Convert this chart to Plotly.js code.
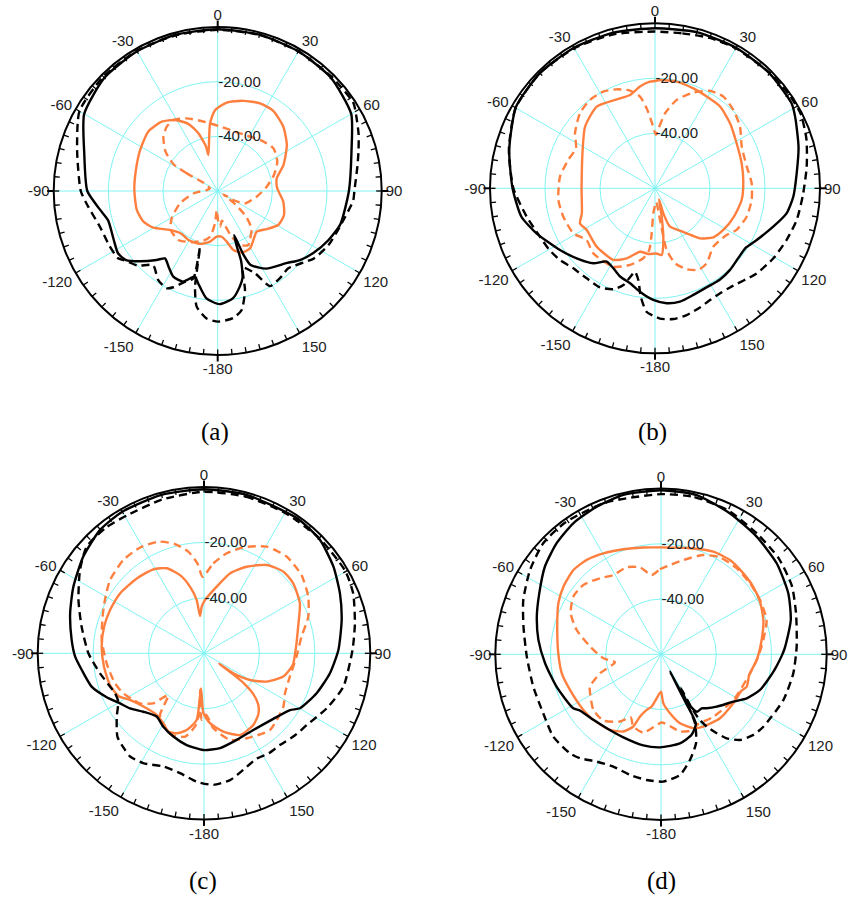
<!DOCTYPE html>
<html>
<head>
<meta charset="utf-8">
<script src="https://cdn.plot.ly/plotly-3.0.1.min.js"></script>
<style>html,body{margin:0;padding:0;background:#fff;}#chart{width:849px;height:913px;}</style>
</head>
<body>
<div id="chart"></div>
<script>
// ---------- angular tick labels ----------
const angleTickVals = [0,30,60,90,120,150,180,210,240,270,300,330];
const angleTickText = ['0','30','60','90','120','150','-180','-150','-120','-90','-60','-30'];
const radialTickVals = [-40,-20];
const radialTickText = ['-40.00','-20.00'];
const panelLabels = ['(a)','(b)','(c)','(d)'];

// ---------- panel (a) ----------
const aBlackSolidTheta = [0,15,30,45,60,73,90,105,114,123,130,136,148,156,158,159.5,161,161.5,164,167,172,179,-174,-168,-165,-159,-152.6,-147,-142,-138.5,-132,-127,-122,-115,-105,-99,-90,-74,-60,-45,-30,-15,0];
const aBlackSolidR     = [-0.8,-0.8,-1.0,-1.4,-3.6,-8.8,-12.0,-13.5,-15.7,-18.3,-20.7,-23.4,-26.5,-30.4,-35,-42.8,-38.5,-33,-27,-24.1,-20.3,-18.6,-20.5,-25.5,-27.6,-24.5,-24.7,-27,-28.7,-26.3,-21.6,-18,-17,-18,-18.5,-16.4,-12.3,-9.2,-3.6,-1.4,-1.0,-0.8,-0.8];
const aBlackDashTheta = [0,15,30,45,57,62,68,74,80,90,94,106,116,125,137.6,144.5,151.2,155.6,161.7,164.6,168.6,173,179.7,-175,-169.7,-166.7,-162.5,-164.4,-159.4,-155.2,-152.3,-146.3,-139,-133,-126.7,-124,-117,-107,-97,-90,-74,-60,-45,-30,-15,0];
const aBlackDashR     = [-1.0,-0.9,-1.0,-1.0,-0.8,-2.5,-4.4,-6.4,-8.1,-10.0,-10.3,-13.4,-14.9,-17,-21.7,-20.8,-20.3,-26.9,-30.5,-22.4,-15.6,-13.2,-12.2,-13.2,-17,-24,-38.5,-26.8,-24.2,-21.2,-19.8,-20.8,-24,-20,-17.5,-16,-15.6,-15,-12.3,-9.9,-6.5,-1.6,-0.8,-0.8,-1.0,-1.0];
const aOrangeSolidTheta = [-14.5,-6.5,-1.9,5.8,15.9,25.8,34.7,45.6,56.3,68.4,77.9,87.4,99.2,109.9,119.3,127.8,136.2,142.5,150.6,158.7,165.1,169.9,175,-178.7,-171.4,-161.6,-149.1,-140,-129.3,-119.7,-112.4,-103.2,-89.3,-75.6,-62.2,-49.4,-38.9,-31,-23.6,-18.5,-14.7,-14.5];
const aOrangeSolidR     = [-46.4,-35.1,-30.4,-27.5,-25.7,-24.4,-24.3,-26.4,-29.6,-34.1,-37.9,-38.2,-35.7,-34.2,-34.6,-37.3,-39.4,-38.2,-35.9,-35.8,-37.7,-41.2,-43.2,-43.3,-41.3,-39.6,-39.1,-39.5,-37.5,-32.9,-30.6,-29.6,-29.5,-29.1,-27.9,-26.6,-27.4,-29.7,-33.2,-37.7,-43.2,-46.4];
const aOrangeDashTheta = [-60,-60.3,-58.7,-52.9,-45,-38.4,-32,-23.1,-14.1,-6.5,0.6,11.4,27.7,41.2,52.5,63.8,74.1,85,98.3,114.3,119.9,120.5,127,132,138,144,150.4,157,163,168,172,176,179,-177,-175.3,-170.5,-163.9,-153.1,-141.2,-129.7,-120.7,-108.1,-95,-85,-72,-60];
const aOrangeDashR     = [-54,-47,-41,-36.1,-31.9,-30,-29.4,-31.1,-33.5,-35.1,-36.2,-37.2,-37.1,-35.5,-34.3,-35.7,-38.6,-42,-45.6,-49,-53.4,-57.6,-52,-46,-41.5,-39.5,-37.3,-38.5,-42.5,-47,-49,-47,-49,-53,-48.2,-43,-41.1,-39,-37,-37.7,-40.4,-45.5,-51.5,-56,-57,-54];

// ---------- panel (b) ----------
const bBlackSolidTheta = [0,15,30,45,58,63,74,84,93.4,100.8,108,116.9,123,130,137.4,144.5,152.4,160.2,167.6,174.2,-179.1,-171.7,-165.3,-158.4,-152.5,-146.6,-140.6,-131.8,-123,-110.8,-101.9,-90,-75.3,-59.6,-45,-30,-15,0];
const bBlackSolidR     = [-1.8,-1.2,-1.0,-1.0,-1.5,-2.8,-5.7,-8.2,-9.6,-11.3,-14.8,-18.5,-20.5,-20.5,-19.7,-19.3,-19.4,-18.8,-17.8,-18,-19.4,-22,-24.3,-25.5,-27.2,-28.1,-24.7,-21.8,-18.8,-13.9,-10.3,-8.2,-5.2,-1.4,-0.8,-1.0,-1.4,-1.8];
const bBlackDashTheta = [0,10,20,30,45,55,63,72,82,93,102.6,111.4,120.6,129.9,142.9,148.2,153.8,159.3,166,172,177.8,-176.1,-172.5,-169.7,-166.5,-164.3,-161.9,-157.6,-150.9,-142.8,-134.4,-127,-120,-112.8,-102.4,-90,-75,-60,-45,-30,-15,0];
const bBlackDashR     = [-3.0,-2.8,-1.8,-1.2,-0.8,-0.5,-0.5,-2.1,-4.3,-6.2,-7.2,-8.6,-10,-11.8,-14.8,-15.1,-14.7,-13.7,-12.5,-12,-12.6,-15,-20.3,-26.1,-28.8,-26.4,-23,-20.3,-18.8,-18.9,-18.4,-16.7,-15.5,-14.6,-12.2,-8.5,-5,-1.5,-0.8,-1.2,-2,-3.0];
const bOrangeSolidTheta = [0,2.6,11.5,21,29.4,38.5,49.1,61.1,73.9,85.7,97.7,109.7,121.4,130,138,144.9,150.8,158.6,161.6,160,166.8,170.8,174.3,179,-174.2,-166.7,-158,-149.8,-135,-121.4,-115,-108.8,-90,-62,-48.6,-35.5,-23.3,-15,-8.4,-2.7,0];
const bOrangeSolidR     = [-21,-20.6,-20.4,-21.1,-21.7,-22,-23.9,-26.1,-27.2,-27.8,-28.2,-29.5,-30.9,-32.3,-35.5,-40,-42.6,-45,-50.4,-55.7,-49.4,-41,-35.6,-36.3,-36,-36.3,-32.5,-29.9,-30,-30.9,-29.9,-31.9,-33.3,-30.2,-26.1,-23.5,-24.8,-24.9,-22.6,-21.2,-21];
const bOrangeDashTheta = [1,4,7.6,13.8,21.8,29.5,36.7,45,54,64.3,76.7,87,96.9,107.2,117,123.1,135,145.4,152,158.6,165,169.3,171,175,-176.2,-175.8,-174.7,-170.5,-162,-152,-136.5,-127.1,-118.9,-107.2,-96.9,-83,-71.9,-63.1,-55.5,-45,-36.3,-28.1,-21.2,-14.4,-9.3,-5.9,-2.9,1];
const bOrangeDashR     = [-40.5,-37.5,-32.5,-26.9,-22.5,-19.3,-18.4,-19.7,-21.8,-25,-25.7,-24.8,-24.6,-25.1,-26.7,-28.9,-30,-26.9,-26.4,-28.4,-31.8,-37.2,-48.4,-55,-50.9,-43.6,-37.5,-34.2,-30.7,-27.7,-27.4,-28.8,-26.1,-25.1,-24.6,-25.2,-26.8,-27.8,-24.7,-21.4,-20.1,-20.1,-21.4,-23.3,-26.2,-30.8,-35.8,-40.5];

// ---------- panel (c) ----------
const cBlackSolidTheta = [0,15,35,45.7,56.2,66.2,76.4,88.6,99,109.5,119.8,123.4,134,147.2,159.3,170.4,-179.6,-169.3,-159.8,-151,-143.2,-133.9,-126.6,-120.8,-114.3,-106.5,-97.8,-91.5,-84.2,-73.4,-63,-51.3,-40.1,-30,-15,0];
const cBlackSolidR     = [-0.8,-0.8,-0.8,-1.5,-3.8,-6.4,-8.9,-11.5,-14,-16.9,-20.1,-22.8,-25.7,-27.1,-26.6,-25.3,-25.1,-26.3,-28,-29.7,-31.5,-29.6,-26.7,-24.7,-21.5,-17.7,-15.5,-13.5,-12,-9.6,-7.1,-4.2,-1.8,-1.0,-0.8,-0.8];
const cBlackDashTheta = [0,15,30,45,59.7,68.1,78.8,88.7,103.5,114.2,125,132,140,147,153.7,161.4,168.4,175.9,-176.7,-168.7,-160.3,-151,-144.4,-140.7,-134,-126,-119.4,-114.2,-100.9,-90,-77.7,-67,-56.1,-47.7,-38,-29,-15,0];
const cBlackDashR     = [-1.7,-1.5,-1.5,-1.2,-1.0,-2,-4.5,-6.4,-8.3,-11.5,-14.8,-15.8,-17,-17,-17.5,-15.6,-13.3,-12.4,-13.6,-15.9,-16.6,-14.7,-14.2,-15,-16.6,-21.1,-24.5,-24.8,-21.8,-18.3,-14.8,-10.8,-6.1,-2.8,-2.5,-3.0,-2.5,-1.7];
const cOrangeSolidTheta = [-6.1,-2.9,1,10.8,18,26.2,35.4,44.2,51.9,62.5,74.2,85.9,97.5,106.4,114.3,120.1,124.3,124.8,125.8,127,129.5,133.5,138.4,145.5,156.2,166.1,175.1,-179.4,-175.1,-173.7,-167.3,-161.1,-155.5,-149.8,-142.5,-131.3,-122.2,-116.5,-108.6,-97.6,-86.3,-75.1,-65.3,-54.5,-41.9,-31.1,-23.7,-17,-11.9,-7.8,-6.1];
const cOrangeSolidR     = [-46.5,-43.2,-40.8,-35.5,-29.7,-25.2,-20.9,-18.9,-19.1,-21,-24.7,-26.7,-27.7,-30.2,-35.2,-40.8,-47.2,-53.3,-47,-42,-37,-33,-30.5,-28.6,-27.8,-30.9,-34.7,-38.4,-47.3,-35.8,-31.6,-29.5,-29,-30.8,-32,-30.9,-28.4,-25.5,-24.2,-23.6,-23,-22.7,-22.7,-22.8,-23.7,-24.6,-26.5,-30.5,-35.4,-40.6,-46.5];
const cOrangeDashTheta = [-1,5.9,12.8,20.4,30.4,40.5,51.3,61.5,70.6,80.3,92.1,105.2,116.3,123.9,139.3,153.3,163.3,172.9,178.1,-178,-174,-175.6,-173,-167.2,-158.4,-150.4,-144.5,-139.4,-134.6,-128,-123.4,-116.4,-108.6,-95.9,-82.6,-70.1,-61.7,-52,-40.8,-31.1,-22.2,-14.9,-8.8,-4.2,-1];
const cOrangeDashR     = [-32.4,-27.4,-23,-19.2,-15.4,-14.1,-14.9,-17.2,-20.1,-24.3,-26.6,-27.9,-27.4,-25.5,-23.5,-25.7,-27.4,-32.8,-37.8,-36,-46.7,-38.3,-33.4,-29.2,-28.3,-30.3,-32.7,-40.2,-34.3,-30.7,-29.5,-27.5,-26.1,-24.7,-22.8,-21.1,-19.4,-17,-15.5,-15.4,-16.5,-19.2,-22.9,-27.5,-32.4];

// ---------- panel (d) ----------
const dBlackSolidTheta = [0,12.6,26.1,39.1,51.8,64.4,75.2,88,98.8,109.8,117.2,123.2,133.2,139.8,143,148,151.4,152.6,152.9,153.3,159.2,168,-179.4,-169,-155.6,-143.7,-134.1,-124.8,-121.6,-107.2,-94.4,-83.3,-73.1,-63.4,-52.9,-43.2,-33.8,-23.5,-13.3,0];
const dBlackSolidR     = [-0.6,-0.9,-3.2,-5.1,-6.7,-8.9,-11.4,-15.4,-18.8,-21.9,-25.1,-28.7,-32.3,-34.4,-35.5,-35.5,-40,-52.9,-40,-31.9,-28.8,-27,-26.3,-26.4,-27,-26.8,-25.9,-24.3,-22.7,-20.4,-17.9,-15.3,-13,-10.7,-7.3,-4.8,-2.9,-1.7,-0.7,-0.6];
const dBlackDashTheta = [0,12,25,39,50.8,62.3,73.1,86.8,98.2,110.5,125.3,131.1,137.3,142,144.8,147.7,149.7,150.2,149.6,153.8,158.5,164.7,171,179,-173.5,-165.6,-157,-149.1,-142.1,-137.4,-127.4,-116.6,-104.2,-91,-78.6,-68.5,-57.2,-46.7,-36,-20,0];
const dBlackDashR     = [-2,-1.8,-2.5,-4.2,-5,-6.5,-8.9,-10.8,-11.6,-12.7,-14.6,-15.6,-17.8,-21.4,-25,-29,-33.2,-38.9,-46,-32.1,-25.4,-20.3,-15.8,-13.9,-14.2,-14.9,-15.8,-14.7,-12.3,-11.3,-10.9,-12.3,-12.3,-11.4,-9.2,-6.4,-3.6,-1.4,-1.0,-1.5,-2];
const dOrangeSolidTheta = [0,15.3,27,36.2,45.5,53.8,62,71.5,81.9,93.4,103.2,110.7,114.3,124.1,137.3,149.7,156.4,164.6,171.3,177.3,180,-174.4,-169.9,-165.6,-161.4,-159,-154,-146,-134.1,-125.6,-111.4,-100.8,-89.4,-75,-63.6,-55.3,-46.1,-38.2,-29.7,-19.7,-9.4,0];
const dOrangeSolidR     = [-21.3,-20.2,-18.3,-17.7,-18.2,-18.6,-19.4,-20.9,-23.2,-25.3,-27.2,-26.8,-28,-28.4,-28.5,-29.7,-30.8,-34.1,-38.4,-42.3,-46.5,-44,-40.8,-39.2,-36.2,-32,-28.9,-27,-25.9,-25.4,-24.6,-23.4,-22.8,-21.1,-18.5,-17,-16,-16.5,-17.9,-19.6,-20.8,-21.3];
const dOrangeDashTheta = [-6.7,-0.7,5.8,13.3,23.1,31.3,41.3,51.4,61.2,72,82,91.4,102,122.3,140,153.2,156.9,166.2,172.8,179.4,-172.8,-167.3,-159,-154.3,-148.7,-139,-129.4,-118.8,-114.5,-107.3,-99.9,-94,-83.8,-73.9,-65.6,-56.7,-48.2,-38.7,-31,-21.5,-13.6,-6.7];
const dOrangeDashR     = [-31.1,-29.2,-27.5,-24.9,-20.9,-18.9,-18.5,-18.8,-19.1,-19.8,-22.6,-24.8,-27,-29,-30.5,-31.3,-30.2,-31.2,-33.8,-35.3,-33,-30.9,-32,-34.7,-31.5,-28.2,-28.3,-30.7,-31.7,-36.9,-43.1,-39.1,-34.2,-28.2,-24.1,-22,-22.3,-24.7,-26.5,-26.1,-27.6,-31.1];

// ---------- build ----------
const BLACK = '#000000', ORANGE = '#ff7f3f', GRID = '#80f4f4';
const DASH = '8px,5px';

function curve(theta, r, subplot, color, dash) {
  return {type: 'scatterpolar', mode: 'lines', theta: theta, r: r, subplot: subplot,
          line: {color: color, width: 2.4, dash: dash, shape: 'spline', smoothing: 0.6},
          hoverinfo: 'skip', showlegend: false};
}

const panels = [
  {sp: 'polar',  bs: [aBlackSolidTheta, aBlackSolidR], bd: [aBlackDashTheta, aBlackDashR], os: [aOrangeSolidTheta, aOrangeSolidR], od: [aOrangeDashTheta, aOrangeDashR]},
  {sp: 'polar2', bs: [bBlackSolidTheta, bBlackSolidR], bd: [bBlackDashTheta, bBlackDashR], os: [bOrangeSolidTheta, bOrangeSolidR], od: [bOrangeDashTheta, bOrangeDashR]},
  {sp: 'polar3', bs: [cBlackSolidTheta, cBlackSolidR], bd: [cBlackDashTheta, cBlackDashR], os: [cOrangeSolidTheta, cOrangeSolidR], od: [cOrangeDashTheta, cOrangeDashR]},
  {sp: 'polar4', bs: [dBlackSolidTheta, dBlackSolidR], bd: [dBlackDashTheta, dBlackDashR], os: [dOrangeSolidTheta, dOrangeSolidR], od: [dOrangeDashTheta, dOrangeDashR]}
];

const W = 849, H = 913;
// centre (px) and radius (px) of each panel
const geom = [
  {cx: 217.7, cy: 191.0, R: 164.0},
  {cx: 655.0, cy: 188.3, R: 165.0},
  {cx: 204.0, cy: 653.3, R: 166.3},
  {cx: 661.0, cy: 654.3, R: 165.7}
];
const captionPos = [{x: 215, y: 432}, {x: 652, y: 432}, {x: 203, y: 881}, {x: 661, y: 881}];

const data = [];
panels.forEach(p => {
  data.push(curve(p.od[0], p.od[1], p.sp, ORANGE, DASH));
  data.push(curve(p.os[0], p.os[1], p.sp, ORANGE, 'solid'));
  data.push(curve(p.bd[0], p.bd[1], p.sp, BLACK, DASH));
  data.push(curve(p.bs[0], p.bs[1], p.sp, BLACK, 'solid'));
});

const minorTicks = [];
for (let a = 0; a < 360; a += 5) minorTicks.push(a);
const crossTicks = [0, 90, 180, 270];

const layout = {width: W, height: H, margin: {l: 0, r: 0, t: 0, b: 0}, paper_bgcolor: '#fff',
  showlegend: false, annotations: []};

const FONT = {family: 'Liberation Sans, Arial, sans-serif', size: 15, color: '#222'};
geom.forEach((g, i) => {
  const dom = {x: [(g.cx - g.R) / W, (g.cx + g.R) / W], y: [1 - (g.cy + g.R) / H, 1 - (g.cy - g.R) / H]};
  const main = i === 0 ? 'polar' : 'polar' + (i + 1);
  const over = 'polar' + (i + 5);
  const over2 = 'polar' + (i + 9);
  layout[main] = {
    domain: dom, bgcolor: 'rgba(0,0,0,0)',
    angularaxis: {rotation: 90, direction: 'clockwise', tickmode: 'array', tickvals: angleTickVals, ticktext: angleTickText,
      showgrid: true, gridcolor: GRID, gridwidth: 1, showline: true, linecolor: BLACK, linewidth: 2,
      ticks: '', tickfont: FONT},
    radialaxis: {range: [-60, 0], tickmode: 'array', tickvals: radialTickVals, ticktext: radialTickText,
      showgrid: true, gridcolor: GRID, gridwidth: 1, showline: false, ticks: '', angle: 90, tickangle: 90,
      side: 'clockwise', tickfont: FONT}
  };
  layout[over] = {
    domain: dom, bgcolor: 'rgba(0,0,0,0)',
    angularaxis: {rotation: 90, direction: 'clockwise', tickmode: 'array', tickvals: minorTicks,
      showticklabels: false, showgrid: false, showline: false, ticks: 'inside', ticklen: 5, tickwidth: 1.3, tickcolor: BLACK},
    radialaxis: {visible: false, range: [-60, 0]}
  };
  layout[over2] = {
    domain: dom, bgcolor: 'rgba(0,0,0,0)',
    angularaxis: {rotation: 90, direction: 'clockwise', tickmode: 'array', tickvals: crossTicks,
      showticklabels: false, showgrid: false, showline: false, ticks: 'outside', ticklen: 6, tickwidth: 2, tickcolor: BLACK},
    radialaxis: {visible: false, range: [-60, 0]}
  };
  // invisible placeholder traces so that the tick-only overlay subplots are created
  [over, over2].forEach(sp => data.push({type: 'scatterpolar', r: [-60], theta: [0], subplot: sp, mode: 'markers',
    marker: {size: 1, opacity: 0}, hoverinfo: 'skip', showlegend: false}));
  layout.annotations.push({text: panelLabels[i], x: captionPos[i].x / W, y: 1 - captionPos[i].y / H,
    xref: 'paper', yref: 'paper', showarrow: false, xanchor: 'center', yanchor: 'middle',
    font: {family: 'Liberation Serif, Times New Roman, serif', size: 25, color: '#000'}});
});

Plotly.newPlot('chart', data, layout, {staticPlot: true, displayModeBar: false});
</script>
</body>
</html>
